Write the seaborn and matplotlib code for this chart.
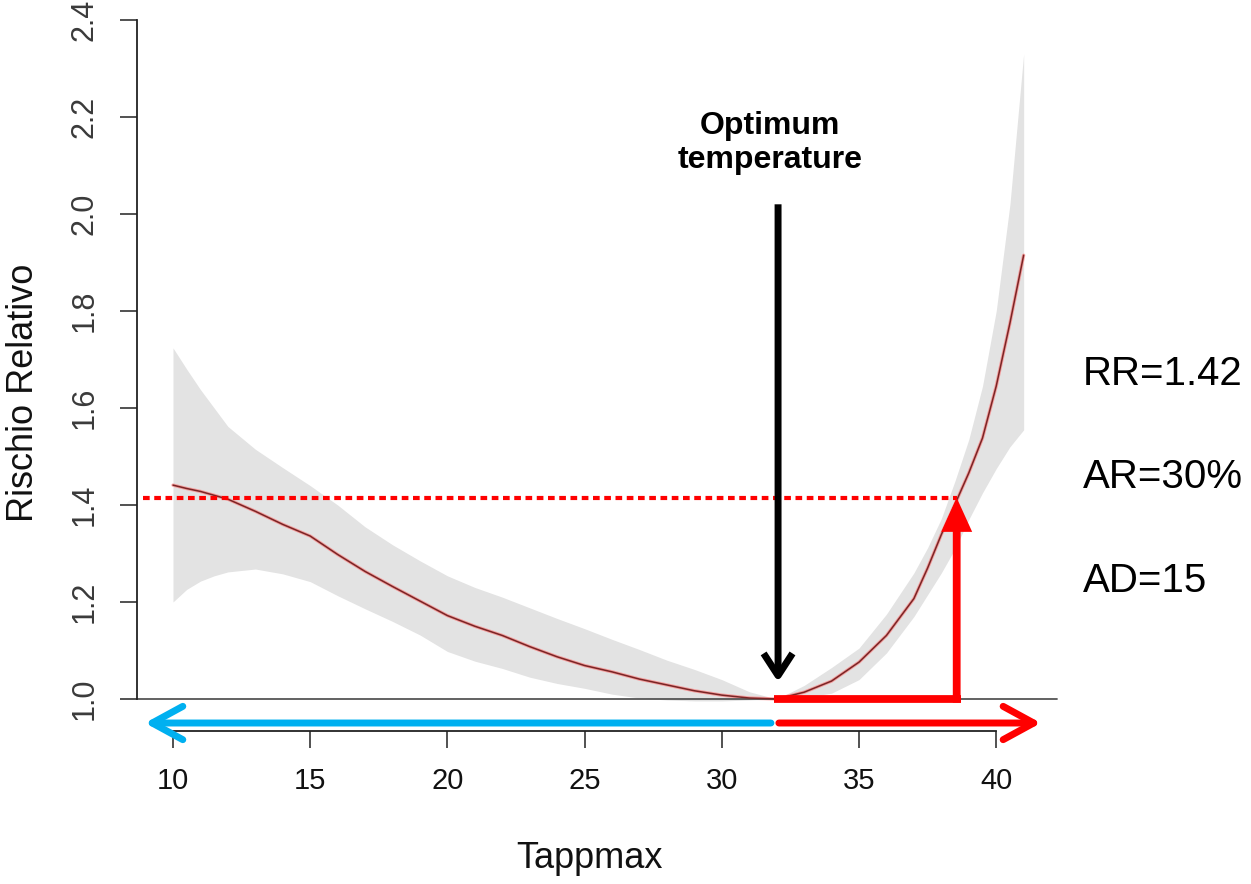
import matplotlib
matplotlib.use("Agg")
import matplotlib.pyplot as plt
import seaborn as sns

# ---------------- data ----------------
temperature = [10, 10.5, 11, 11.5, 12, 13, 14, 15, 16, 17, 18, 19, 20, 21, 22, 23, 24, 25,
               26, 27, 28, 29, 30, 31, 32, 33, 34, 35, 36, 37, 37.5, 38, 38.5, 39, 39.5,
               40, 40.5, 41]
rr = [1.441, 1.434, 1.428, 1.420, 1.412, 1.387, 1.360, 1.336, 1.298, 1.263, 1.232,
      1.202, 1.172, 1.150, 1.131, 1.108, 1.087, 1.069, 1.056, 1.041, 1.029, 1.017,
      1.008, 1.002, 1.000, 1.014, 1.037, 1.076, 1.131, 1.207, 1.270, 1.339, 1.402,
      1.466, 1.538, 1.645, 1.775, 1.915]
rr_low = [1.200, 1.226, 1.243, 1.254, 1.262, 1.268, 1.258, 1.242, 1.213, 1.186, 1.160,
          1.132, 1.098, 1.078, 1.063, 1.045, 1.032, 1.022, 1.010, 1.002, 0.998, 0.996,
          0.996, 0.998, 1.000, 1.003, 1.012, 1.040, 1.095, 1.170, 1.215, 1.260, 1.310,
          1.370, 1.425, 1.475, 1.520, 1.555]
rr_high = [1.724, 1.680, 1.638, 1.600, 1.562, 1.515, 1.477, 1.440, 1.400, 1.355, 1.318,
           1.285, 1.254, 1.230, 1.210, 1.188, 1.166, 1.145, 1.123, 1.102, 1.080, 1.061,
           1.040, 1.015, 1.000, 1.028, 1.065, 1.105, 1.175, 1.260, 1.312, 1.372, 1.450,
           1.535, 1.645, 1.800, 2.020, 2.330]

x_ticks = [10, 15, 20, 25, 30, 35, 40]
y_ticks = [1.0, 1.2, 1.4, 1.6, 1.8, 2.0, 2.2, 2.4]
y_tick_labels = ["1.0", "1.2", "1.4", "1.6", "1.8", "2.0", "2.2", "2.4"]

optimum_temp = 32.0
rr_value = 1.415
temp_at_rr = 38.56
stats_labels = ["RR=1.42", "AR=30%", "AD=15"]
x_label = "Tappmax"
y_label = "Rischio Relativo"
optimum_label = "Optimum\ntemperature"

# ---------------- style ----------------
sns.set_style("white")
plt.rcParams["font.family"] = ["Liberation Sans", "DejaVu Sans"]

fig = plt.figure(figsize=(12.51, 8.84), dpi=100)
ax = fig.add_axes([100 / 1251, 124 / 884, 970 / 1251, 750 / 884])
ax.set_xlim(7.340, 42.689)
ax.set_ylim(0.87423, 2.42062)

# confidence band and curve
ax.fill_between(temperature, rr_low, rr_high, color="#e3e3e3", lw=0, zorder=1)
sns.lineplot(x=temperature, y=rr, ax=ax, color="#ff7070", lw=2.4, alpha=0.6, zorder=2)
sns.lineplot(x=temperature, y=rr, ax=ax, color="#7a2525", lw=1.1, zorder=3)

# reference line at RR = 1
ax.plot([8.688, 42.22], [1.0, 1.0], color="#555555", lw=1.3, zorder=2)

# dotted red RR line
ax.plot([8.91, temp_at_rr], [rr_value, rr_value], color="red", lw=3.0,
        linestyle=(0, (1.6, 1.1)), zorder=4)

# red L shape with filled arrow head
ax.plot([31.9, temp_at_rr + 0.14], [1.0, 1.0], color="red", lw=5.6,
        solid_capstyle="butt", zorder=5)
ax.annotate("", xy=(temp_at_rr, rr_value), xytext=(temp_at_rr, 0.9925),
            arrowprops=dict(arrowstyle="-|>,head_length=0.75,head_width=0.34",
                            color="red", lw=5.6, mutation_scale=20,
                            shrinkA=0, shrinkB=0, joinstyle="miter", capstyle="butt"),
            zorder=5)

# black optimum arrow
ax.annotate("", xy=(optimum_temp + 0.05, 1.035), xytext=(optimum_temp + 0.05, 2.02),
            arrowprops=dict(arrowstyle="->,head_length=0.8,head_width=0.52",
                            color="black", lw=5, mutation_scale=20,
                            shrinkA=0, shrinkB=0, capstyle="butt", joinstyle="round"),
            zorder=6)
ax.text(31.76, 2.146, optimum_label, ha="center", va="center", fontsize=23,
        fontweight="bold", linespacing=1.15, color="black")

# blue (cold) and red (heat) arrows under the plot
arrow_y = 0.9505
ax.annotate("", xy=(8.98, arrow_y), xytext=(31.79, arrow_y),
            arrowprops=dict(arrowstyle="->,head_length=1.1,head_width=0.6",
                            color="#00b0f0", lw=5, mutation_scale=20,
                            shrinkA=0, shrinkB=0, joinstyle="round", capstyle="round"),
            zorder=6)
ax.annotate("", xy=(41.63, arrow_y), xytext=(32.08, arrow_y),
            arrowprops=dict(arrowstyle="->,head_length=1.1,head_width=0.6",
                            color="red", lw=5, mutation_scale=20,
                            shrinkA=0, shrinkB=0, joinstyle="round", capstyle="round"),
            zorder=6)

# axes styling (R-like detached axes)
for side in ["top", "right"]:
    ax.spines[side].set_visible(False)
ax.spines["left"].set_position(("data", 8.688))
ax.spines["left"].set_bounds(1.0, 2.4)
ax.spines["bottom"].set_position(("data", 0.934))
ax.spines["bottom"].set_bounds(10, 40)
for side in ["left", "bottom"]:
    ax.spines[side].set_color("#222222")
    ax.spines[side].set_linewidth(1.3)

ax.set_xticks(x_ticks)
ax.set_xticklabels([str(t) for t in x_ticks])
ax.set_yticks(y_ticks)
ax.set_yticklabels(y_tick_labels)
ax.tick_params(axis="x", direction="out", length=12.2, width=1.1, pad=14,
               labelsize=21, colors="#222222", bottom=True)
ax.tick_params(axis="y", direction="out", length=12.2, width=1.1, pad=15,
               labelsize=22, labelrotation=90, colors="#222222", left=True)
for lab in ax.get_yticklabels():
    lab.set_va("center")
    lab.set_color("#3a3a3a")
for lab in ax.get_xticklabels():
    lab.set_color("#111111")

ax.set_xlabel(x_label, fontsize=26, color="#111111")
ax.xaxis.set_label_coords(0.505, -0.108)
ax.set_ylabel(y_label, fontsize=26, color="#111111")
ax.yaxis.set_label_coords(-0.0608, 0.489)

# statistics text on the right
for label, base_py in zip(stats_labels, [385, 488, 592]):
    fig.text(1083 / 1251, 1 - base_py / 884, label, fontsize=29, ha="left",
             va="baseline", color="black")

fig.savefig("out.png", dpi=100)
